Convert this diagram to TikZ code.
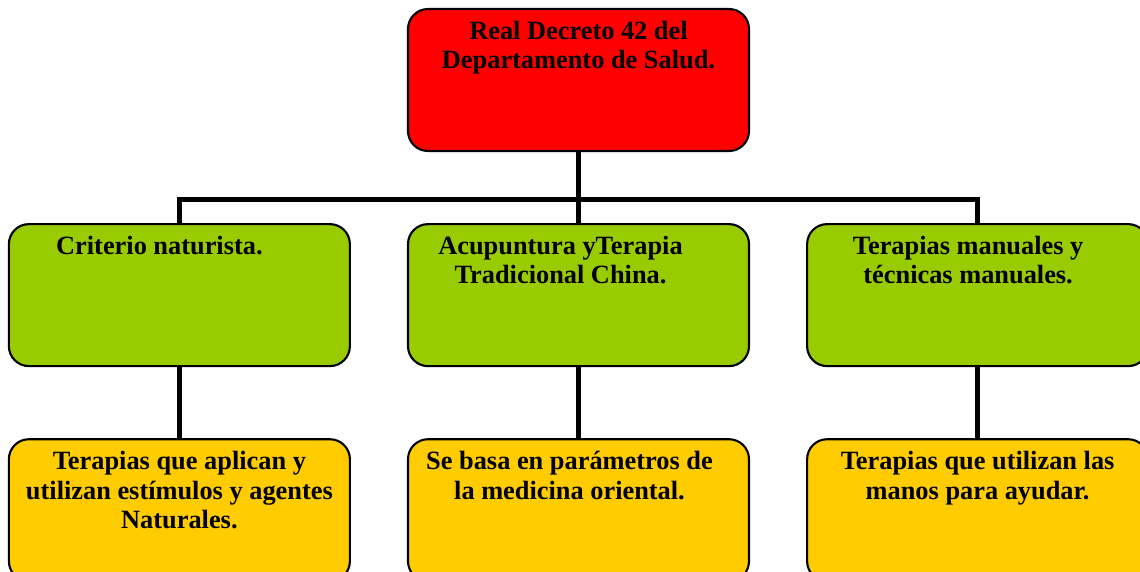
\documentclass[tikz,border=0pt]{standalone}
\usepackage{fontspec}
\setmainfont{Liberation Serif}
\usepackage{tikz}
\usetikzlibrary{positioning,calc}
\definecolor{rojo}{HTML}{FF0000}
\definecolor{verde}{HTML}{99CC00}
\definecolor{amarillo}{HTML}{FFCC00}
\tikzset{
	%Define style for boxes
	caja/.style={
	       rectangle,
	       rounded corners=0.4cm,
	       draw=black, line width=1.2pt,
	       minimum width=6.82cm,
	       minimum height=2.84cm,
	       inner sep=0.1cm,
	       font=\bfseries\fontsize{15}{16.8}\selectfont,
	       execute at begin node={\begin{minipage}[t][2.36cm][t]{6.6cm}\centering},
	       execute at end node={\end{minipage}}},
	decreto/.style={caja, fill=rojo},
	rama/.style={caja, fill=verde},
	detalle/.style={caja, fill=amarillo},
	% Define line style
	linea/.style={
	       line width=2.8pt}
}
\begin{document}
\begin{tikzpicture}
		\useasboundingbox (0,0) rectangle (22.8,-11.42);
		\clip (0,0) rectangle (22.8,-11.42);
		\node[decreto](real) at (11.57,-1.6){Real Decreto 42 del\\Departamento de Salud.};
		\node[rama, below=1.42cm of real](acupuntura){\hspace*{-0.72cm}Acupuntura yTerapia\\\hspace*{-0.72cm}Tradicional China.};
		\node[rama, left=1.12cm of acupuntura](naturista){\hspace*{-0.8cm}Criterio naturista.};
		\node[rama, right=1.12cm of acupuntura](manuales){\hspace*{-0.38cm}Terapias manuales y\\\hspace*{-0.38cm}técnicas manuales.};
		\node[detalle, below=1.42cm of naturista](agentes){Terapias que aplican y\\utilizan estímulos y agentes\\Naturales.};
		\node[detalle, below=1.42cm of acupuntura](oriental){\hspace*{-0.36cm}Se basa en parámetros de\\\hspace*{-0.36cm}la medicina oriental.};
		\node[detalle, below=1.42cm of manuales](manos){Terapias que utilizan las\\manos para ayudar.};
		% lineas
		\coordinate[below=0.94cm of real.south](union);
		\draw[linea] (real.south) -- (union) -| (naturista.north);
		\draw[linea] (union) -| (manuales.north);
		\draw[linea] (union) -- (acupuntura.north);
		\draw[linea] (naturista) -- (agentes);
		\draw[linea] (acupuntura) -- (oriental);
		\draw[linea] (manuales) -- (manos);
\end{tikzpicture}
\end{document}
